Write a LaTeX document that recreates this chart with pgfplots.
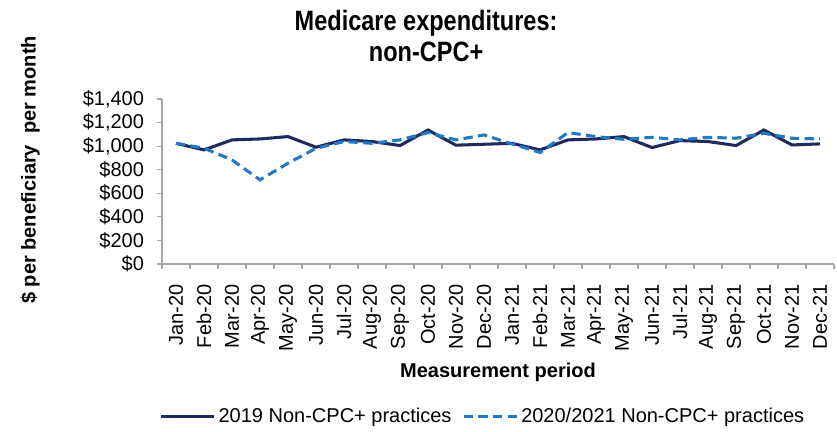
\documentclass[border=0pt]{standalone}
\usepackage{fontspec}
\setmainfont{Liberation Sans}
\newfontfamily\titlefont[FakeStretch=0.84]{Liberation Sans}
\usepackage{pgfplots}
\pgfplotsset{compat=1.18}
\definecolor{navy}{HTML}{1F2A5E}
\definecolor{lblue}{HTML}{2278C2}
\definecolor{axgray}{HTML}{A6A6A6}
\begin{document}
\begin{tikzpicture}
\begin{axis}[
  name=ax,
  scale only axis,
  width=504pt, height=123.75pt,
  xmin=-0.5, xmax=23.5,
  ymin=0, ymax=1400,
  axis x line*=bottom, axis y line*=left,
  axis line style={axgray, line width=0.8pt},
  xtick={0,...,23},
  xticklabels={Jan-20,Feb-20,Mar-20,Apr-20,May-20,Jun-20,Jul-20,Aug-20,Sep-20,Oct-20,Nov-20,Dec-20,Jan-21,Feb-21,Mar-21,Apr-21,May-21,Jun-21,Jul-21,Aug-21,Sep-21,Oct-21,Nov-21,Dec-21},
  major x tick style={draw=none},
  minor xtick={-0.5,0.5,...,23.5},
  minor x tick style={axgray, line width=0.8pt},
  minor tick length=4pt,
  ytick={0,200,...,1400},
  yticklabels={{\$0},{\$200},{\$400},{\$600},{\$800},{\$1,000},{\$1,200},{\$1,400}},
  major y tick style={axgray, line width=0.8pt},
  major tick length=4pt,
  tick align=outside,
  x tick label style={rotate=90, anchor=east, font=\fontsize{15pt}{17pt}\selectfont, xshift=-8pt},
  y tick label style={font=\fontsize{15pt}{17pt}\selectfont, xshift=-6pt},
  xlabel={Measurement period},
  xlabel style={font=\fontsize{15pt}{17pt}\selectfont\bfseries, at={(axis description cs:0.5,-0.655)}, anchor=center},
  ylabel={\$ per beneficiary\ \ per month},
  ylabel style={font=\fontsize{15pt}{17pt}\selectfont\bfseries, at={(axis description cs:-0.196,0.57)}, anchor=center, rotate=0},
  title={Medicare expenditures:\\non-CPC+},
  title style={font=\fontsize{21pt}{23pt}\titlefont\bfseries, align=center, at={(axis description cs:0.393,1.15)}, anchor=south},
  legend columns=2,
  legend style={draw=none, fill=none, at={(axis description cs:0.478,-0.925)}, anchor=center, font=\fontsize{15pt}{17pt}\selectfont, /tikz/every even column/.append style={column sep=6pt}},
  legend image code/.code={\draw[#1] (0pt,0pt) -- (40pt,0pt);},
  clip=false,
]
\addplot[navy, line width=2.3pt] coordinates {
(0,1024) (1,968) (2,1053) (3,1061) (4,1081) (5,991) (6,1053) (7,1039) (8,1005) (9,1137) (10,1008) (11,1016)
(12,1024) (13,968) (14,1053) (15,1061) (16,1081) (17,988) (18,1047) (19,1039) (20,1005) (21,1137) (22,1010) (23,1019)
};
\addlegendentry{2019 Non-CPC+ practices}
\addplot[lblue, line width=2.3pt, dash pattern=on 7pt off 4pt] coordinates {
(0,1024) (1,982) (2,883) (3,714) (4,855) (5,982) (6,1039) (7,1024) (8,1053) (9,1115) (10,1053) (11,1095)
(12,1019) (13,946) (14,1115) (15,1081) (16,1058) (17,1075) (18,1053) (19,1075) (20,1067) (21,1109) (22,1067) (23,1061)
};
\addlegendentry{2020/2021 Non-CPC+ practices}
\end{axis}
\path ([shift={(-121.5pt,-125.25pt)}]ax.south west) rectangle ([shift={(2.25pt,74.25pt)}]ax.north east);
\end{tikzpicture}
\end{document}
